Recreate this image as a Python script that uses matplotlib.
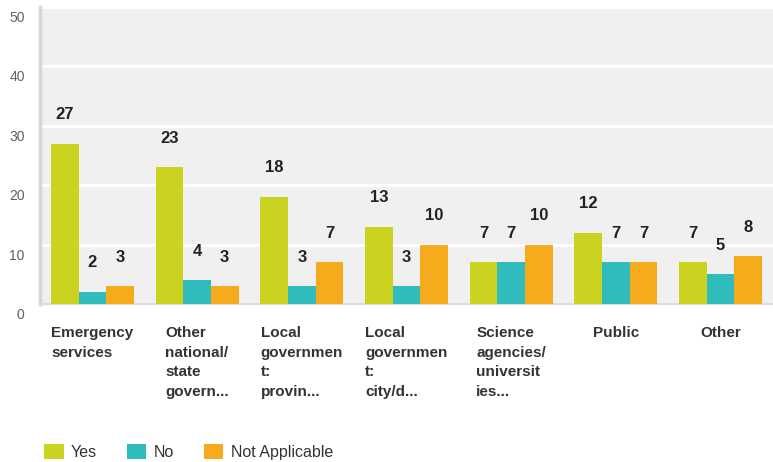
import numpy as np
import matplotlib
matplotlib.use('Agg')
import matplotlib.pyplot as plt
from matplotlib.patches import Patch
import matplotlib.transforms as mtransforms

plt.rcParams['font.family'] = ['Liberation Sans', 'DejaVu Sans']

categories = ['Emergency\nservices',
              'Other\nnational/\nstate\ngovern...',
              'Local\ngovernmen\nt:\nprovin...',
              'Local\ngovernmen\nt:\ncity/d...',
              'Science\nagencies/\nuniversit\nies...',
              'Public',
              'Other']
yes = [27, 23, 18, 13, 7, 12, 7]
no = [2, 4, 3, 3, 7, 7, 5]
not_applicable = [3, 3, 7, 10, 10, 7, 8]
series_names = ['Yes', 'No', 'Not Applicable']
colors = ['#cbd321', '#30bcbc', '#f6ab1c']

fig = plt.figure(figsize=(7.73, 4.62), dpi=100)
ax = fig.add_axes([40 / 773, 158 / 462, 1 - 40 / 773, (455 - 158) / 462])
ax.set_facecolor('#f0f0f0')

x = np.arange(len(categories))
w = 0.264
for i, (vals, c) in enumerate(zip([yes, no, not_applicable], colors)):
    pos = x + (i - 1) * w
    ax.bar(pos, vals, width=w, color=c, zorder=3)
    for px, v in zip(pos, vals):
        ax.annotate(str(v), (px, v), xytext=(0, 21), textcoords='offset points',
                    ha='center', va='center', fontsize=12, fontweight='bold',
                    color='#222222', zorder=4)

ax.set_xlim(-0.5, len(categories) - 0.5)
ax.set_ylim(0, 50)
ax.set_yticks([0, 10, 20, 30, 40, 50])
ax.yaxis.grid(True, color='white', linewidth=2, zorder=1)
ax.set_axisbelow(True)

ax.set_xticks(x)
ax.set_xticklabels(categories, fontsize=11, fontweight='bold', color='#333333',
                   multialignment='left', linespacing=1.5)
ax.tick_params(axis='x', length=0, pad=16)
ax.tick_params(axis='y', length=0, pad=11, labelsize=10, labelcolor='#606060')

# y labels sit just below their grid lines
offset = mtransforms.ScaledTranslation(0, -4 / 100, fig.dpi_scale_trans)
for lab in ax.get_yticklabels():
    lab.set_va('top')
    lab.set_transform(lab.get_transform() + offset)

for s in ['top', 'right']:
    ax.spines[s].set_visible(False)
ax.spines['left'].set_color('#d6d6d6')
ax.spines['left'].set_linewidth(2.5)
ax.spines['bottom'].set_color('#dcdcdc')
ax.spines['bottom'].set_linewidth(1.5)

handles = [Patch(facecolor=c, edgecolor='none') for c in colors]
fig.legend(handles, series_names, loc='center left',
           bbox_to_anchor=(30 / 773, 1 - 452 / 462), frameon=False,
           fontsize=11.5, labelcolor='#333333', ncol=3,
           handlelength=1.2, handleheight=1.1, handletextpad=0.45,
           columnspacing=1.9)

fig.savefig('out.png', dpi=100)
